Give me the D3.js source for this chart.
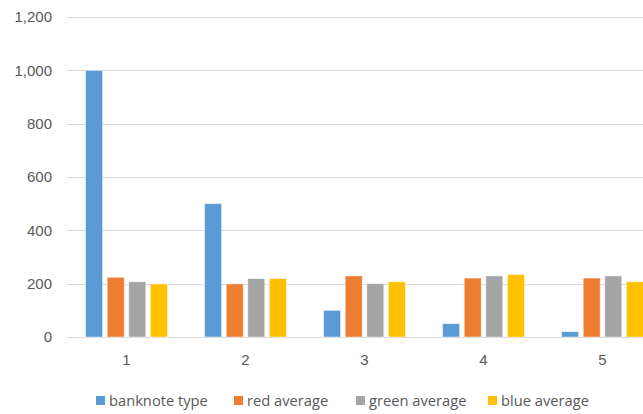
<!DOCTYPE html>
<html>
<head>
<meta charset="utf-8">
<script src="https://cdn.jsdelivr.net/npm/d3@7"></script>
<style>
  html, body { margin: 0; padding: 0; background: #fff; overflow: hidden; }
  svg { display: block; font-family: "Open Sans", "Liberation Sans", sans-serif; }
</style>
</head>
<body>
<svg id="chart" width="643" height="414"></svg>
<script>
const categories = ["1", "2", "3", "4", "5"];
const seriesNames = ["banknote type", "red average", "green average", "blue average"];
const banknoteType = [1000, 500, 100, 50, 20];
const redAverage   = [224, 199, 229, 221, 221];
const greenAverage = [207, 219, 200, 229, 229];
const blueAverage  = [199, 219, 207, 234, 207];
const yTicks = [0, 200, 400, 600, 800, 1000, 1200];
const colors = ["#5B9BD5", "#ED7D31", "#A5A5A5", "#FFC000"];

const seriesValues = [banknoteType, redAverage, greenAverage, blueAverage];

const svg = d3.select("#chart");
const plot = { left: 67, right: 662, top: 17, bottom: 337 };

const x = d3.scaleBand().domain(categories).range([plot.left, plot.right]).paddingInner(0).paddingOuter(0);
const y = d3.scaleLinear().domain([0, 1200]).range([plot.bottom, plot.top]);

// bar geometry: gap width 219%, series overlap -27%
const barW = x.bandwidth() / 7;
const step = barW * 1.27;
const groupW = barW * 4 + barW * 0.27 * 3;
const fmt = d3.format(",");

// gridlines
svg.append("g")
  .selectAll("line")
  .data(yTicks)
  .join("line")
  .attr("x1", plot.left).attr("x2", plot.right)
  .attr("y1", d => Math.round(y(d)) + 0.5).attr("y2", d => Math.round(y(d)) + 0.5)
  .attr("stroke", "#D9D9D9").attr("stroke-width", 1);

// y axis labels
const yAxis = d3.axisLeft(y).tickValues(yTicks).tickFormat(fmt).tickSize(0).tickPadding(15);
const yg = svg.append("g").attr("transform", `translate(${plot.left},0)`).call(yAxis);
yg.select(".domain").remove();
yg.selectAll("text").attr("fill", "#595959").style("font-size", "15px");

// x axis labels
const xAxis = d3.axisBottom(x).tickSize(0).tickPadding(17);
const xg = svg.append("g").attr("transform", `translate(0,${plot.bottom})`).call(xAxis);
xg.select(".domain").remove();
xg.selectAll("text").attr("fill", "#595959").style("font-size", "15px");

// bars
seriesValues.forEach((vals, si) => {
  svg.append("g")
    .selectAll("rect")
    .data(vals)
    .join("rect")
    .attr("x", (d, i) => x(categories[i]) + (x.bandwidth() - groupW) / 2 + si * step)
    .attr("y", d => y(d))
    .attr("width", barW)
    .attr("height", d => y(0) - y(d))
    .attr("fill", colors[si])
    .attr("stroke", "#fff")
    .attr("stroke-opacity", 0.6)
    .attr("stroke-width", 0.75);
});

// legend
const legendX = [96, 234, 356, 488];
const legend = svg.append("g").attr("transform", "translate(0,401)");
seriesNames.forEach((name, i) => {
  const g = legend.append("g").attr("transform", `translate(${legendX[i]},0)`);
  g.append("rect").attr("x", 0).attr("y", -5).attr("width", 9).attr("height", 9).attr("fill", colors[i]);
  g.append("text").attr("x", 13).attr("y", 0).attr("dy", "0.35em")
    .attr("fill", "#595959").style("font-size", "14.7px").text(name);
});
</script>
</body>
</html>
